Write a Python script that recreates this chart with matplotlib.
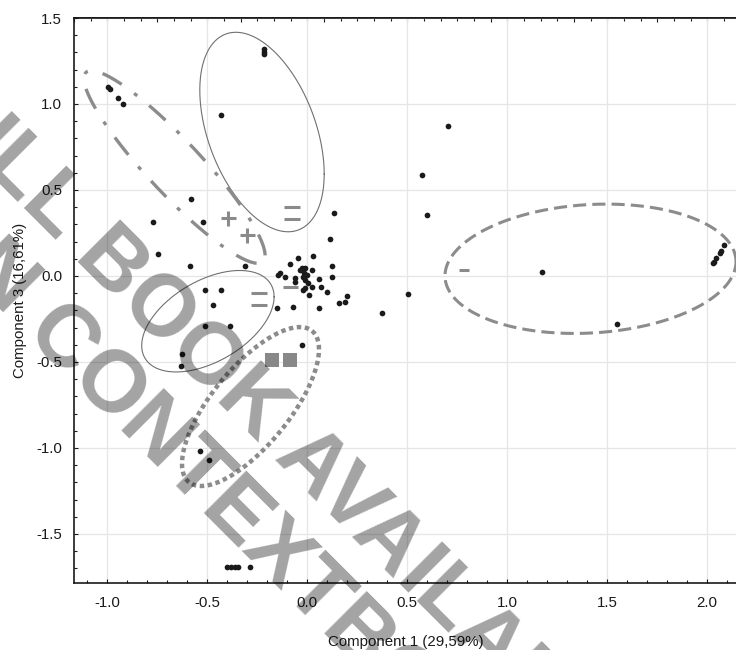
import numpy as np
import matplotlib
matplotlib.use("Agg")
import matplotlib.pyplot as plt
from matplotlib.path import Path
from matplotlib.ticker import MultipleLocator, FormatStrFormatter, NullFormatter

plt.rcParams['font.family'] = ['Liberation Sans', 'DejaVu Sans']

# ---------------- data ----------------
x_vals = [-0.215, -0.213, -0.213, -0.993, -0.985, -0.947, -0.922, -0.432,
          -0.582, -0.770, -0.520, -0.745, -0.583, -0.308,
          0.133, 0.117, 0.125, 0.123,
          -0.043, 0.028, -0.085, -0.135, -0.143, -0.110, -0.060, -0.060, -0.035,
          -0.027, -0.010, -0.015, 0.023, -0.018, -0.010, -0.002, 0.007, 0.023,
          -0.018, -0.010, 0.012, 0.060, 0.068, 0.102, 0.198, 0.190, 0.158,
          -0.148, -0.068, 0.062,
          -0.510, -0.432, -0.470, -0.510, -0.383, -0.623, -0.632,
          -0.027, 0.377, 0.505, -0.535, -0.488,
          -0.402, -0.382, -0.362, -0.345, -0.285,
          0.705, 0.577, 0.602, 1.173, 1.552,
          2.085, 2.070, 2.065, 2.045, 2.037, 2.032]
y_vals = [1.322, 1.305, 1.290, 1.097, 1.090, 1.035, 1.000, 0.936,
          0.446, 0.314, 0.314, 0.126, 0.060, 0.060,
          0.368, 0.213, 0.060, -0.004,
          0.103, 0.116, 0.070, 0.016, 0.006, -0.004, -0.013, -0.033, 0.035,
          0.045, 0.045, 0.020, 0.035, -0.004, -0.023, 0.006, -0.042, -0.062,
          -0.081, -0.072, -0.110, -0.017, -0.062, -0.091, -0.116, -0.149, -0.159,
          -0.188, -0.182, -0.188,
          -0.081, -0.081, -0.170, -0.291, -0.291, -0.453, -0.521,
          -0.399, -0.213, -0.105, -1.016, -1.070,
          -1.694, -1.694, -1.694, -1.694, -1.694,
          0.870, 0.585, 0.355, 0.025, -0.279,
          0.180, 0.147, 0.132, 0.103, 0.083, 0.074]

# group symbols
plus_x = [-0.397, -0.302]
plus_y = [0.335, 0.238]
eq_x = [-0.077, -0.238]
eq_y = [0.365, -0.134]
minus_x = [-0.085, 0.785]
minus_y = [-0.062, 0.035]
sq_x = [-0.177, -0.085]
sq_y = [-0.488, -0.488]

# ellipses: centre x, centre y, half-width (x), half-height (y), correlation
ell_cx = [-0.225, -0.4955, -0.6625, 1.4175, -0.2825]
ell_cy = [0.837, -0.263, 0.634, 0.042, -0.759]
ell_w = [0.311, 0.331, 0.453, 0.7275, 0.3425]
ell_h = [0.580, 0.295, 0.560, 0.376, 0.462]
ell_r = [-0.42, 0.48, -0.918, 0.11, 0.72]

x_axis_label = "Component 1 (29,59%)"
y_axis_label = "Component 3 (16,61%)"

# ---------------- figure ----------------
W, H = 736, 650
fig = plt.figure(figsize=(W / 100, H / 100), dpi=100)
ax = fig.add_axes([74 / W, 1 - 583 / H, (737 - 74) / W, (583 - 18) / H])
xmin, xmax = -1.165, 2.15
ax.set_xlim(xmin, xmax)
ax.set_ylim(-1.785, 1.5)

ax.grid(True, which='major', color='#e6e6e6', lw=0.9)
ax.set_axisbelow(True)

styles = [
    dict(color='#707070', lw=0.8, ls='-'),
    dict(color='#707070', lw=0.8, ls='-'),
    dict(color='#8c8c8c', lw=2.4, ls=(0, (6.6, 4.6, 1.2, 4.6)), solid_capstyle='butt', dash_capstyle='butt'),
    dict(color='#8c8c8c', lw=2.2, ls=(0, (4.3, 2.0)), dash_capstyle='butt'),
    dict(color='#8c8c8c', lw=3.2, ls=(0, (1.0, 0.8)), dash_capstyle='butt'),
]
t = np.linspace(0, 2 * np.pi, 600)
for cx, cy, w, h, r, st in zip(ell_cx, ell_cy, ell_w, ell_h, ell_r, styles):
    ex = cx + w * np.cos(t)
    ey = cy + h * (r * np.cos(t) + np.sqrt(1 - r * r) * np.sin(t))
    ax.plot(ex, ey, zorder=2, **st)

sym_col = '#8a8a8a'
ax.plot(plus_x, plus_y, ls='none', marker='+', ms=10.8, mew=2.2, color=sym_col, zorder=3)
eq_path = Path([(-1, 0.76), (1, 0.76), (-1, -0.76), (1, -0.76)],
               [Path.MOVETO, Path.LINETO, Path.MOVETO, Path.LINETO])
ax.plot(eq_x, eq_y, ls='none', marker=eq_path, ms=12.2, mew=2.2, color=sym_col, zorder=3)
ax.scatter(minus_x, minus_y, marker='_', s=[10.8 ** 2, 7.5 ** 2], linewidths=2.2,
           color=sym_col, zorder=3)
ax.plot(sq_x, sq_y, ls='none', marker='s', ms=9.6, mew=0, color='#888888', zorder=3)

ax.plot(x_vals, y_vals, ls='none', marker='o', ms=4.1, mew=0, color='#1a1a1a', zorder=4)

# ticks
ax.xaxis.set_major_locator(MultipleLocator(0.5))
ax.xaxis.set_minor_locator(MultipleLocator(0.1))
ax.yaxis.set_major_locator(MultipleLocator(0.5))
ax.yaxis.set_minor_locator(MultipleLocator(0.1))
ax.xaxis.set_major_formatter(FormatStrFormatter('%.1f'))
ax.yaxis.set_major_formatter(FormatStrFormatter('%.1f'))
ax.tick_params(which='both', direction='in', top=False, right=False,
               colors='#1a1a1a', labelsize=10.8, pad=8.5, width=0.8)
ax.tick_params(axis='x', which='major', pad=9.5)
ax.tick_params(which='major', length=3.2)
ax.tick_params(which='minor', length=2.2)

sec = ax.secondary_xaxis('top', functions=(lambda x: (x - xmin) * 2.4,
                                           lambda v: v / 2.4 + xmin))
sec.xaxis.set_major_locator(MultipleLocator(1))
sec.xaxis.set_minor_locator(MultipleLocator(0.2))
sec.xaxis.set_major_formatter(NullFormatter())
sec.tick_params(which='both', direction='in', width=0.8, colors='#1a1a1a')
sec.tick_params(which='major', length=3.2)
sec.tick_params(which='minor', length=2.2)
sec.spines['top'].set_linewidth(1.2)

for s in ['left', 'bottom', 'top']:
    ax.spines[s].set_linewidth(1.2)
    ax.spines[s].set_color('#1a1a1a')
ax.spines['right'].set_visible(False)

ax.set_xlabel(x_axis_label, fontsize=10.8, color='#1a1a1a', labelpad=18)
ax.set_ylabel(y_axis_label, fontsize=10.8, color='#1a1a1a', labelpad=7)

# watermark overlay
wm = dict(rotation=-45, rotation_mode='anchor', ha='left', va='baseline',
          fontsize=63, fontweight='bold', family='Liberation Sans',
          color='black', alpha=0.36, zorder=10)
fig.text(-101.5 / W, 1 - 83.5 / H, "FULL BOOK AVAILABLE", **wm)
fig.text(-86.5 / W, 1 - 223.5 / H, "ON CONTEXTBOOK", **wm)

fig.savefig("out.png", dpi=100)
